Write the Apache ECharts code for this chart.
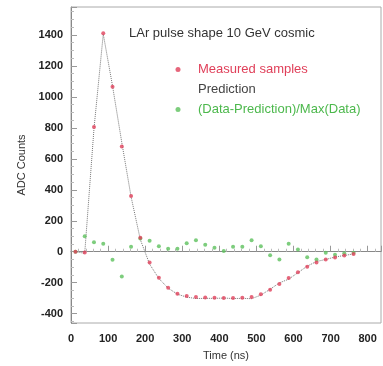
<!DOCTYPE html>
<html>
<head>
<meta charset="utf-8">
<script src="https://cdn.jsdelivr.net/npm/echarts@6/dist/echarts.min.js"></script>
<style>
  html, body { margin: 0; padding: 0; background: #fff; }
  #chart { width: 383px; height: 366px; }
</style>
</head>
<body>
<div id="chart"></div>
<script>
// Sample times (ns), 25 ns spacing
var times = [12, 37, 62, 87, 112, 137, 162, 187, 212, 237, 262, 287, 312, 337, 362, 387,
             412, 437, 462, 487, 512, 537, 562, 587, 612, 637, 662, 687, 712, 737, 762];

// Measured ADC samples
var measured = [0, -5, 805, 1410, 1065, 680, 360, 90, -70, -168, -232, -271, -285, -292, -295, -297,
                -298, -298, -297, -292, -275, -245, -208, -170, -132, -97, -70, -50, -37, -25, -14];

// Predicted pulse shape
var prediction = [0, -10, 795, 1405, 1070, 705, 355, 78, -80, -173, -235, -274, -293, -302, -301, -301,
                  -299, -302, -301, -303, -280, -242, -201, -177, -135, -93, -63, -50, -34, -24, -14];

// (Data-Prediction)/Max(Data), per-mille scale as drawn
var residual = [0, 100, 62, 52, -52, -160, 32, 85, 71, 35, 19, 19, 55, 75, 45, 25,
                5, 32, 32, 75, 35, -22, -50, 52, 15, -35, -50, -6, -19, -10, -6];

var titleText = 'LAr pulse shape 10 GeV cosmic';
var xTitle = 'Time (ns)';
var yTitle = 'ADC Counts';

function pairs(xs, ys) {
  return xs.map(function (x, i) { return [x, ys[i]]; });
}

var chart = echarts.init(document.getElementById('chart'), null, { renderer: 'canvas' });

var labelStyle = {
  color: '#222', fontSize: 11, fontWeight: 'bold', fontFamily: 'Liberation Sans',
  formatter: function (v) { return String(v); }
};

chart.setOption({
  animation: false,
  backgroundColor: '#fff',
  title: {
    text: titleText,
    left: 124, top: 22,
    textStyle: { color: '#333', fontSize: 13, fontWeight: 'normal', fontFamily: 'Liberation Sans' }
  },
  legend: {
    orient: 'vertical',
    left: 158, top: 58,
    itemWidth: 30, itemHeight: 5, itemGap: 7,
    textStyle: { fontSize: 13, fontFamily: 'Liberation Sans' },
    data: [
      { name: 'Measured samples', icon: 'circle', textStyle: { color: '#e0405a' } },
      { name: 'Prediction', icon: 'none', textStyle: { color: '#444' } },
      { name: '(Data-Prediction)/Max(Data)', icon: 'circle', textStyle: { color: '#4cb84c' } }
    ]
  },
  grid: {
    left: 71, right: 2, top: 7, bottom: 43,
    show: true, borderColor: '#aaa', borderWidth: 1
  },
  xAxis: {
    type: 'value',
    min: 0, max: 836, interval: 100,
    name: xTitle, nameLocation: 'middle', nameGap: 27,
    nameTextStyle: { color: '#333', fontSize: 11, fontFamily: 'Liberation Sans' },
    axisLine: { show: true, lineStyle: { color: '#888' } },
    axisTick: { show: true, inside: true, length: 6, lineStyle: { color: '#999' } },
    minorTick: { show: true, splitNumber: 5, length: 3, lineStyle: { color: '#bbb' } },
    splitLine: { show: false },
    axisLabel: Object.assign({ margin: 10, showMaxLabel: false }, labelStyle)
  },
  yAxis: {
    type: 'value',
    min: -460, max: 1580, splitNumber: 10,
    name: yTitle, nameLocation: 'middle', nameGap: 44, nameRotate: 90,
    nameTextStyle: { color: '#333', fontSize: 11, fontFamily: 'Liberation Sans' },
    axisLine: { show: true, lineStyle: { color: '#888' } },
    axisTick: { show: true, inside: true, length: 6, lineStyle: { color: '#999' } },
    minorTick: { show: true, splitNumber: 4, length: 3, lineStyle: { color: '#bbb' } },
    splitLine: { show: false },
    axisLabel: Object.assign({ margin: 8, showMinLabel: false, showMaxLabel: false }, labelStyle)
  },
  series: [
    {
      name: 'Prediction',
      type: 'line',
      data: pairs(times, prediction),
      showSymbol: false,
      lineStyle: { color: '#777', width: 1, type: 'dotted' },
      z: 1
    },
    {
      name: 'Measured samples',
      type: 'scatter',
      data: pairs(times, measured),
      symbol: 'circle', symbolSize: 4,
      itemStyle: { color: '#e0405a' },
      z: 3
    },
    {
      name: '(Data-Prediction)/Max(Data)',
      type: 'scatter',
      data: pairs(times, residual),
      symbol: 'circle', symbolSize: 4,
      itemStyle: { color: '#5cc05c' },
      z: 2
    }
  ]
});
</script>
</body>
</html>
